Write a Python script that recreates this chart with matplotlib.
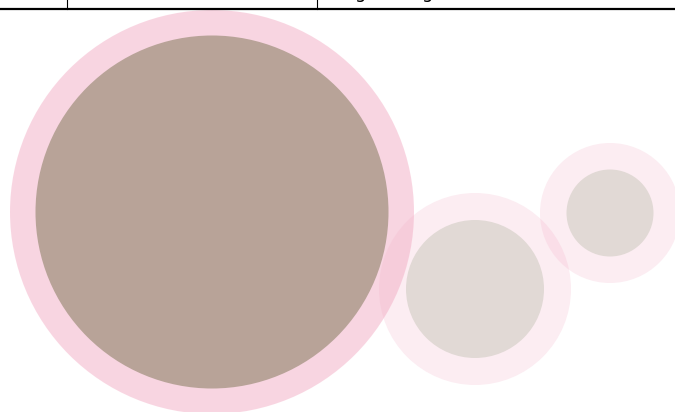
import matplotlib
matplotlib.use("Agg")
import matplotlib.pyplot as plt
from matplotlib.patches import Circle
from matplotlib.lines import Line2D

# Bubble data (pixel-like data coordinates)
names = ["Primary", "Secondary", "Tertiary"]
cx = [212, 475, 610]
cy = [212, 289, 213]
outer_r = [202, 96, 70]
inner_r = [176.5, 69, 43.5]
outer_alpha = [0.5, 0.22, 0.22]
inner_colors = ["#b8a398", "#e1d9d5", "#e1d9d5"]

W, H = 675, 412
fig = plt.figure(figsize=(W / 100, H / 100), dpi=100)
ax = fig.add_axes([0, 0, 1, 1])
ax.set_xlim(0, W)
ax.set_ylim(H, 0)
ax.axis("off")

for x, y, ro, ri, a, ic in zip(cx, cy, outer_r, inner_r, outer_alpha, inner_colors):
    ax.add_patch(Circle((x, y), ro, facecolor="#f3adc5", alpha=a, edgecolor="none"))
    ax.add_patch(Circle((x, y), ri, facecolor=ic, edgecolor="none"))

# header table remnants at the top
fy = 1 - 8.5 / H
fig.add_artist(Line2D([0, 1], [fy, fy], transform=fig.transFigure, color="black", lw=1.6))
for vx in [67, 317]:
    fig.add_artist(Line2D([vx / W, vx / W], [fy, 1], transform=fig.transFigure, color="black", lw=0.8))
for gx in [361, 428]:
    fig.text(gx / W, 1 + 1.5 / H, "g", ha="center", va="baseline", fontsize=13, color="black")

fig.savefig("out.png", dpi=100)
